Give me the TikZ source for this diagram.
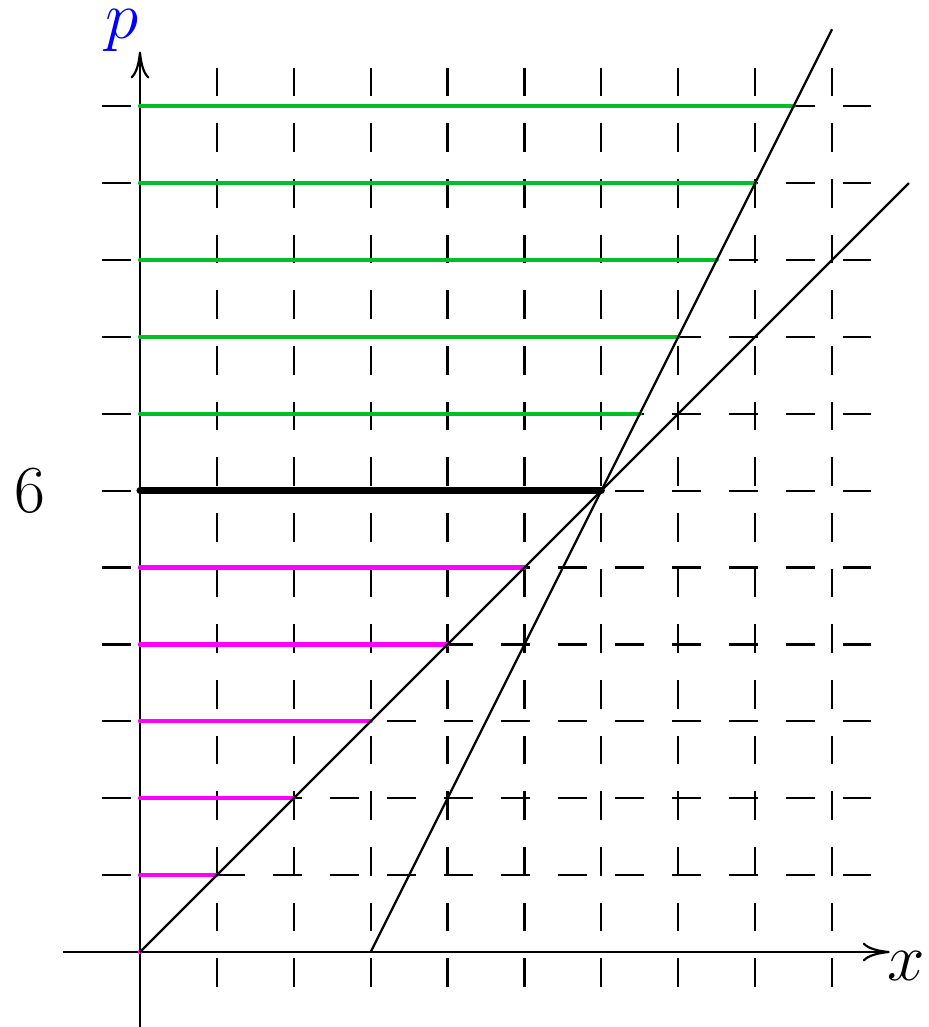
\documentclass[tikz,border=0pt]{standalone}
\usepackage{amsmath}
\usetikzlibrary{arrows.meta,positioning}
\definecolor{mygreen}{RGB}{0,190,40}
\definecolor{mymagenta}{RGB}{255,0,255}

\begin{document}
\begin{tikzpicture}[
    x=1cm, y=1cm,
    hgridline/.style={black, line width=0.8pt, dash pattern=on 10.8pt off 10.3pt},
    vgridline/.style={black, line width=0.8pt, dash pattern=on 10.6pt off 10pt},
    axisline/.style={-{To[length=10pt,width=7pt]}, line width=0.8pt},
    graphline/.style={line width=0.8pt},
    lowline/.style={mymagenta, line width=1.6pt, line cap=round},
    highline/.style={mygreen, line width=1.6pt, line cap=round},
    eqline/.style={black, line width=2.6pt, line cap=round},
    axislabel/.style={font=\Huge}
]
\useasboundingbox (-1.82,-0.975) rectangle (10.26,12.38);

% dashed grid
\foreach \p in {1,...,11}
    \draw[hgridline] (-0.5,\p) -- (9.5,\p);
\foreach \x in {1,...,9}
    \draw[vgridline] (\x,11.5) -- (\x,-0.5);

% axes
\coordinate (xstart) at (-1,0);
\coordinate (xend) at (9.75,0);
\coordinate (pstart) at (0,-0.975);
\coordinate (pend) at (0,11.71);
\draw[axisline] (xstart) -- (xend);
\draw[axisline] (pstart) -- (pend);
\node[axislabel] (xlab) at (9.97,-0.18) {$x$};
\node[axislabel, text=blue] (plab) at (-0.23,11.98) {$p$};
\node[axislabel] (six) at (-1.43,6) {6};

% levels
\foreach \p in {0,...,5}
    \draw[lowline] (0,\p) -- (\p,\p);
\foreach \p in {7,...,11}
    \draw[highline] (0,\p) -- ({(\p+6)/2},\p);
\coordinate (A) at (0,6);
\coordinate (E) at (6,6);
\draw[eqline] (A) -- (E);

% the two lines
\coordinate (O) at (0,0);
\coordinate (Dend) at (10,10);
\coordinate (S) at (3,0);
\coordinate (Send) at (9,12);
\draw[graphline] (O) -- (Dend);
\draw[graphline] (S) -- (Send);
\end{tikzpicture}
\end{document}
